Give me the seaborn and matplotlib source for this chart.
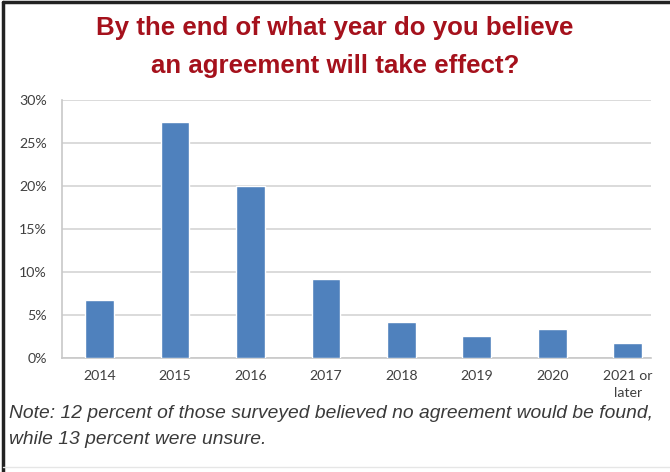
import matplotlib
matplotlib.use("Agg")
import matplotlib.pyplot as plt
import matplotlib.ticker as mtick
from matplotlib.lines import Line2D
import seaborn as sns
import pandas as pd

sns.set_theme(style="white")

# data
years = ["2014", "2015", "2016", "2017", "2018", "2019", "2020", "2021 or\nlater"]
share = [0.067, 0.274, 0.200, 0.092, 0.042, 0.026, 0.034, 0.017]

df = pd.DataFrame({"year": years, "share": share})

title_red = "#a5111c"
bar_blue = "#4f81bd"
grid_grey = "#d4d4d4"

fig = plt.figure(figsize=(6.7, 4.72), dpi=100)
ax = fig.add_axes([62 / 670, 1 - 358 / 472, (651 - 62) / 670, (358 - 100) / 472])

sns.barplot(data=df, x="year", y="share", color=bar_blue, width=0.38,
            saturation=1, ax=ax, zorder=3)

ax.set_ylim(0, 0.30)
ax.set_xlim(-0.5, 7.31)
ax.set_yticks([0, 0.05, 0.10, 0.15, 0.20, 0.25, 0.30])
ax.yaxis.set_major_formatter(mtick.PercentFormatter(1.0, decimals=0))
ax.yaxis.grid(True, color=grid_grey, linewidth=1.2, zorder=0)
ax.set_xlabel("")
ax.set_ylabel("")
for side in ["top", "right"]:
    ax.spines[side].set_visible(False)
for side in ["left", "bottom"]:
    ax.spines[side].set_color("#c8c8c8")
    ax.spines[side].set_linewidth(1.2)
ax.tick_params(axis="both", length=0, labelsize=10.2, labelcolor="#404040")
ax.tick_params(axis="y", pad=11)
ax.tick_params(axis="x", pad=9)
for lab in ax.get_xticklabels() + ax.get_yticklabels():
    lab.set_fontfamily("Lato")
for lab in ax.get_xticklabels():
    lab.set_linespacing(1.45)
    lab.set_verticalalignment("top")

fig.text(0.5, 1 - 28 / 472, "By the end of what year do you believe",
         ha="center", va="center", fontsize=18.6, fontweight="bold",
         color=title_red, family="Liberation Sans")
fig.text(0.5, 1 - 66 / 472, "an agreement will take effect?",
         ha="center", va="center", fontsize=18.6, fontweight="bold",
         color=title_red, family="Liberation Sans")

fig.text(9 / 670, 1 - 413 / 472,
         "Note: 12 percent of those surveyed believed no agreement would be found,",
         ha="left", va="center", fontsize=13.9, style="italic",
         color="#3a3a3a", family="Liberation Sans")
fig.text(9 / 670, 1 - 439 / 472, "while 13 percent were unsure.",
         ha="left", va="center", fontsize=13.9, style="italic",
         color="#3a3a3a", family="Liberation Sans")

# frame of the panel
fig.add_artist(Line2D([3 / 670, 3 / 670], [0, 1 - 2 / 472], color="#222222",
                      linewidth=2.5, transform=fig.transFigure))
fig.add_artist(Line2D([3 / 670, 1], [1 - 2 / 472, 1 - 2 / 472], color="#222222",
                      linewidth=2.5, transform=fig.transFigure))
fig.add_artist(Line2D([3 / 670, 1], [1 - 467 / 472, 1 - 467 / 472], color="#e6e6e6",
                      linewidth=1, transform=fig.transFigure))

fig.savefig("out.png", dpi=100)
